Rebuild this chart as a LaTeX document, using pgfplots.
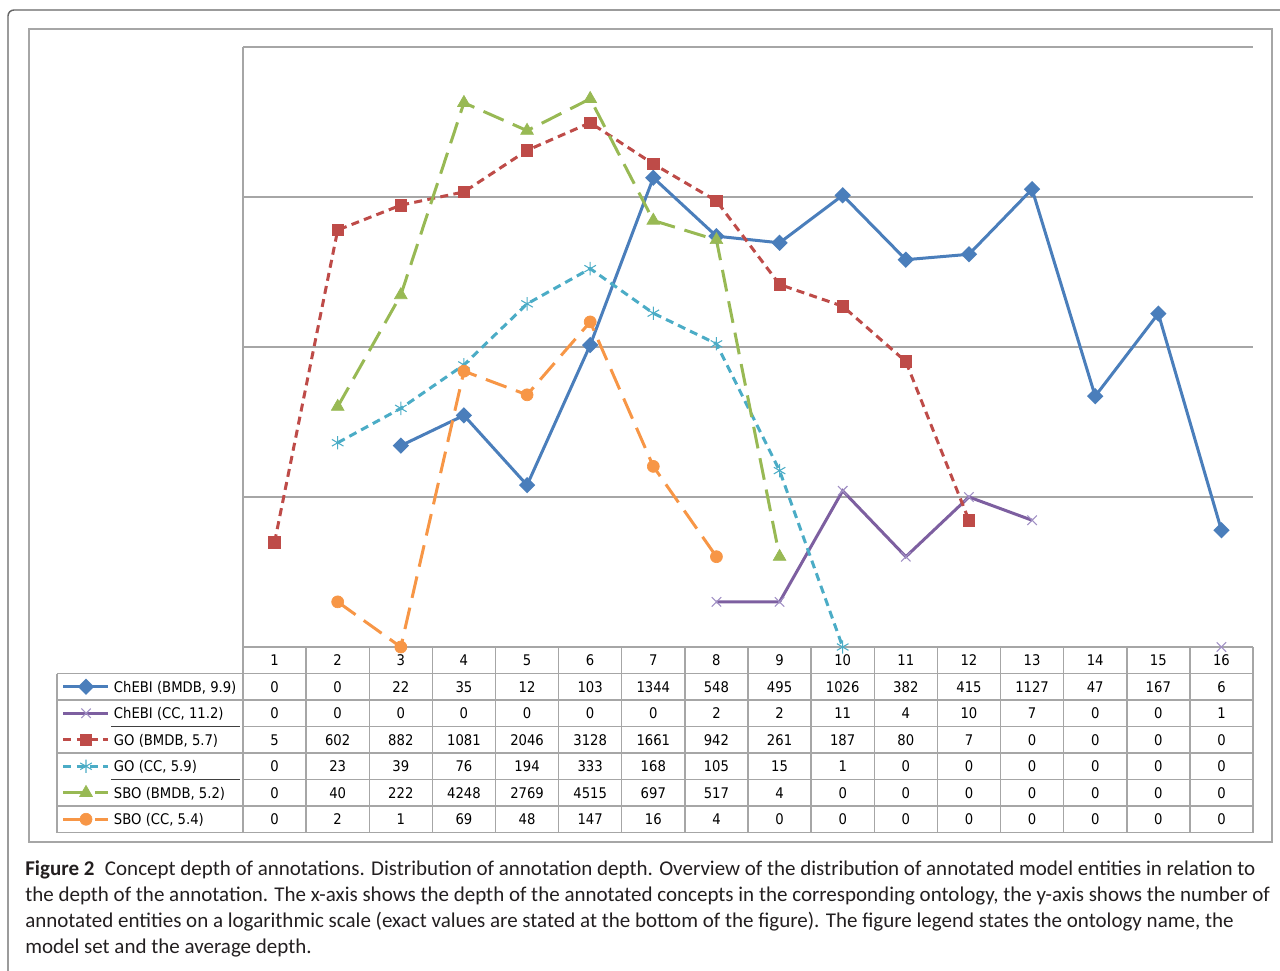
\documentclass[border=0pt]{standalone}
\usepackage{fontspec}
\usepackage{pgfplots}
\pgfplotsset{compat=1.18}
\newfontfamily\tabfont[FakeStretch=0.9]{DejaVu Sans}
\newfontfamily\capfont{Carlito}
\definecolor{cBlue}{HTML}{4A7EBB}
\definecolor{cPurple}{HTML}{7D5FA0}
\definecolor{cPurpleM}{HTML}{A08FC4}
\definecolor{cRed}{HTML}{BE4B48}
\definecolor{cTeal}{HTML}{4BACC6}
\definecolor{cGreen}{HTML}{98B954}
\definecolor{cOrange}{HTML}{F79646}
\definecolor{gridgray}{HTML}{A6A6A6}
\definecolor{capcol}{HTML}{231F20}
\begin{document}
\begin{tikzpicture}
\begin{scope}[x=0.75pt,y=-0.75pt]
\useasboundingbox (0,0) rectangle (1280,970);
\draw[color=black!60, line width=1.1pt, rounded corners=4.5pt] (8,10) rectangle (1300,1000);
\draw[gridgray, line width=1.1pt] (29,29) rectangle (1272,842);
% table grid
\draw[gridgray, line width=1.1pt] (243,47) -- (243,832.5);
\draw[gridgray, line width=1.1pt] (243,647) -- (1253,647);
\foreach \k in {1,...,16} {\draw[gridgray, line width=1.1pt] ({243+63.125*\k},647) -- ({243+63.125*\k},832.5);}
\draw[gridgray, line width=1.1pt] (57,673.5) -- (57,832.5);
\foreach \yy in {673.5,700,753,806,832.5} {\draw[gridgray, line width=1.1pt] (57,\yy) -- (1253,\yy);}
\foreach \yy in {726.5,779.5} {\draw[gridgray, line width=1.1pt] (243,\yy) -- (1253,\yy);
  \draw[black!75, line width=0.8pt] (111,\yy) -- (240,\yy);}
% table values
\foreach \row [count=\r] in {
 {0,0,22,35,12,103,1344,548,495,1026,382,415,1127,47,167,6},
 {0,0,0,0,0,0,0,2,2,11,4,10,7,0,0,1},
 {5,602,882,1081,2046,3128,1661,942,261,187,80,7,0,0,0,0},
 {0,23,39,76,194,333,168,105,15,1,0,0,0,0,0,0},
 {0,40,222,4248,2769,4515,697,517,4,0,0,0,0,0,0,0},
 {0,2,1,69,48,147,16,4,0,0,0,0,0,0,0,0}} {
  \foreach \v [count=\c] in \row {
    \node[inner sep=0pt, anchor=center, font=\tabfont\fontsize{11}{13}\selectfont] at ({243+63.125*(\c-0.5)},{686.75+26.5*(\r-1)}) {\v};
  }
}
% caption
\begin{scope}[every node/.style={anchor=base west, inner sep=0pt, text=capcol, font=\capfont\fontsize{15.75}{18}\selectfont}]
\node at (25,875) {\textbf{Figure 2}\hspace{0.5em}Concept depth of annotations. Distribution of annotation depth. Overview of the distribution of annotated model entities in relation to};
\node at (25,901) {the depth of the annotation. The x-axis shows the depth of the annotated concepts in the corresponding ontology, the y-axis shows the number of};
\node at (25,927) {annotated entities on a logarithmic scale (exact values are stated at the bottom of the figure). The figure legend states the ontology name, the};
\node at (25,953) {model set and the average depth.};
\end{scope}
\end{scope}

\begin{axis}[
  at={(182.25pt,-485.25pt)}, anchor=south west,
  scale only axis, width=757.5pt, height=450pt,
  xmin=0.5, xmax=16.5, ymode=log, ymin=1, ymax=10000,
  axis line style={draw=none},
  xtick={1,...,16}, xticklabels={1,2,3,4,5,6,7,8,9,10,11,12,13,14,15,16},
  major tick length=0pt, minor tick length=0pt,
  tick style={draw=none}, minor tick num=0, yminorticks=false,
  xticklabel style={font=\tabfont\fontsize{11}{13}\selectfont, anchor=center, yshift=-9.94pt, inner sep=0pt},
  ytick={10,100,1000,10000}, yticklabels={},
  ymajorgrids, grid style={gridgray, line width=1.1pt},
  clip=false,
  unbounded coords=jump,
  legend cell align=left,
  legend image code/.code={\draw[#1, mark repeat=2, mark phase=2] plot coordinates {(0pt,0pt) (16.9pt,0pt) (33.75pt,0pt)};},
  legend style={at={(-0.17921,-0.04417)}, anchor=north west, draw=none, fill=none,
    inner sep=0pt, outer sep=0pt, row sep=0pt,
    font=\tabfont\fontsize{11}{13}\selectfont,
    nodes={inner sep=0pt, minimum height=19.875pt, text depth=0pt},
    /tikz/every odd column/.append style={column sep=3pt}},
]
\addplot[cBlue, line width=2.25pt, mark=square*, mark size=3.2pt, mark options={rotate=45, solid, fill=cBlue}]
 coordinates {(1,0)(2,0)(3,22)(4,35)(5,12)(6,103)(7,1344)(8,548)(9,495)(10,1026)(11,382)(12,415)(13,1127)(14,47)(15,167)(16,6)};
\addlegendentry{ChEBI (BMDB, 9.9)}
\addplot[cPurple, line width=2.25pt, mark=x, mark size=5pt, mark options={solid, cPurpleM, line width=0.8pt}]
 coordinates {(1,0)(2,0)(3,0)(4,0)(5,0)(6,0)(7,0)(8,2)(9,2)(10,11)(11,4)(12,10)(13,7)(14,0)(15,0)(16,1)};
\addlegendentry{ChEBI (CC, 11.2)}
\addplot[cRed, line width=2.25pt, dash pattern=on 6pt off 4pt, mark=square*, mark size=4.3pt, mark options={solid, fill=cRed, line width=0.5pt}]
 coordinates {(1,5)(2,602)(3,882)(4,1081)(5,2046)(6,3128)(7,1661)(8,942)(9,261)(10,187)(11,80)(12,7)(13,0)(14,0)(15,0)(16,0)};
\addlegendentry{GO (BMDB, 5.7)}
\addplot[cTeal, line width=2.25pt, dash pattern=on 6pt off 4pt, mark=asterisk, mark size=5pt, mark options={solid, line width=0.8pt}]
 coordinates {(1,0)(2,23)(3,39)(4,76)(5,194)(6,333)(7,168)(8,105)(9,15)(10,1)(11,0)(12,0)(13,0)(14,0)(15,0)(16,0)};
\addlegendentry{GO (CC, 5.9)}
\addplot[cGreen, line width=2.25pt, dash pattern=on 16.5pt off 7.5pt, mark=triangle*, mark size=5.5pt, mark options={solid, fill=cGreen, line width=0.5pt}]
 coordinates {(1,0)(2,40)(3,222)(4,4248)(5,2769)(6,4515)(7,697)(8,517)(9,4)(10,0)(11,0)(12,0)(13,0)(14,0)(15,0)(16,0)};
\addlegendentry{SBO (BMDB, 5.2)}
\addplot[cOrange, line width=2.25pt, dash pattern=on 16.5pt off 7.5pt, mark=*, mark size=4.5pt, mark options={solid, fill=cOrange, line width=0.5pt}]
 coordinates {(1,0)(2,2)(3,1)(4,69)(5,48)(6,147)(7,16)(8,4)(9,0)(10,0)(11,0)(12,0)(13,0)(14,0)(15,0)(16,0)};
\addlegendentry{SBO (CC, 5.4)}
\end{axis}
\end{tikzpicture}
\end{document}
